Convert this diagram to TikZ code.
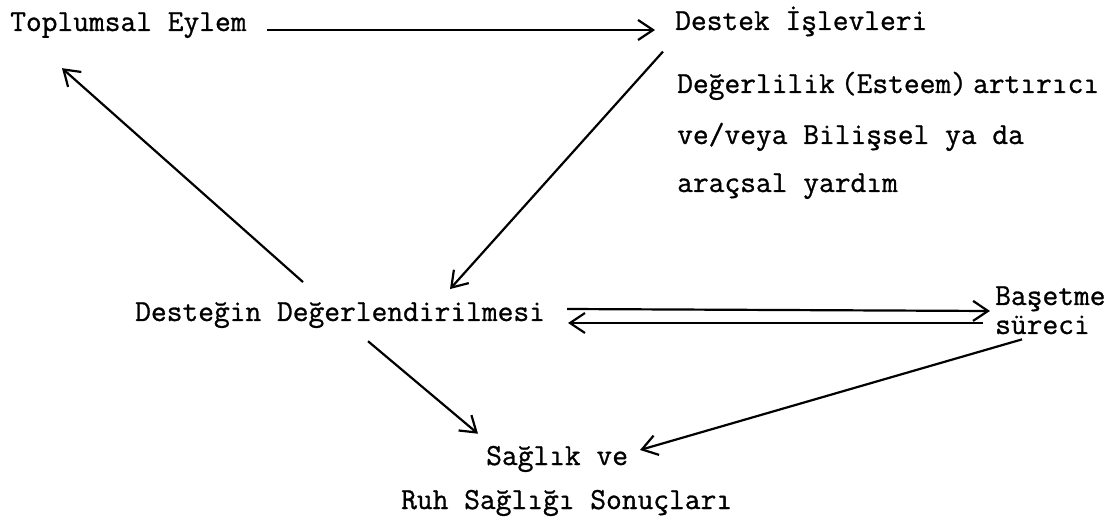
\documentclass[tikz,border=0pt]{standalone}
\usepackage{fontspec}
\setmonofont{Latin Modern Mono}[FakeBold=0.9]
\usetikzlibrary{arrows.meta,calc}
\begin{document}
\begin{tikzpicture}[x=1pt,y=-1pt,
  lbl/.style={anchor=base west, inner sep=0pt, font=\ttfamily\fontsize{30.6}{35}\selectfont},
  arr/.style={line width=2.2pt, -{Straight Barb[length=15pt,width=20pt,line width=2.2pt]}}]
\path[use as bounding box] (0,0) rectangle (1119,526);
\node[lbl] (te) at (10,31) {Toplumsal Eylem};
\node[lbl] (di) at (675,30) {Destek İşlevleri};
\node[lbl] (d1) at (677,93) {Değerlilik\hspace{0.2em}(Esteem)\hspace{0.2em}artırıcı};
\node[lbl] (d2) at (677,144) {ve/veya Bilişsel ya da};
\node[lbl] (d3) at (677,192) {araçsal yardım};
\node[lbl] (dd) at (135,321) {Desteğin Değerlendirilmesi};
\node[lbl] (b1) at (995,305) {Başetme};
\node[lbl] (b2) at (995,334) {süreci};
\node[lbl] (s1) at (486,465) {Sağlık ve};
\node[lbl] (s2) at (401,509) {Ruh Sağlığı Sonuçları};
% connectors
\draw[arr] ($(te.base west)+(257,-1)$) -- ($(di.base west)+(-20,0)$);
\draw[arr] ($(d1.north west)+(-14,-20)$) -- ($(dd.north west)+(315,-13)$);
\draw[arr] ($(dd.north west)+(168,-20)$) -- ($(te.south west)+(52,30)$);
\draw[arr] ($(dd.base west)+(432,-12)$) -- ($(b1.base west)+(-5,6)$);
\draw[arr] ($(b2.base west)+(-12,-11)$) -- ($(dd.base west)+(433,2)$);
\draw[arr] ($(dd.south west)+(233,13)$) -- ($(s1.north west)+(-8,-12)$);
\draw[arr] ($(b2.south west)+(27,5)$) -- ($(s1.base west)+(154,-15)$);
\end{tikzpicture}
\end{document}
